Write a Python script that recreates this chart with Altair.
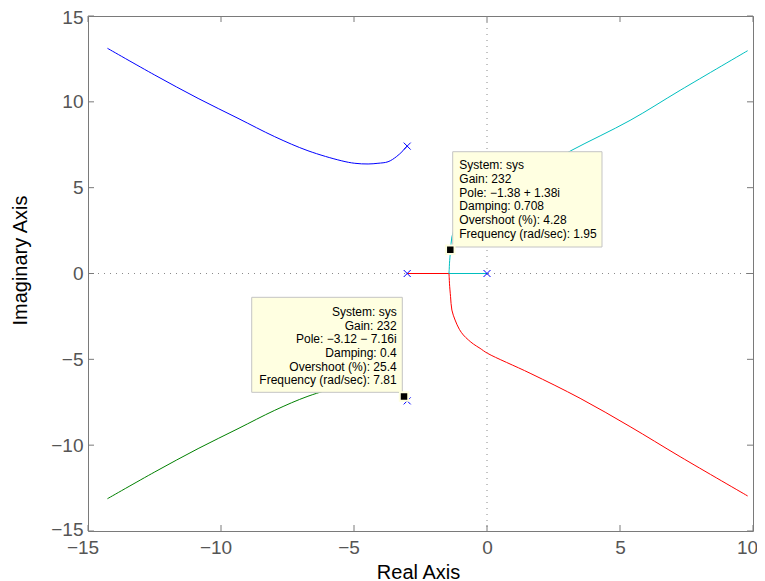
import altair as alt
import pandas as pd

W, H = 665, 515

x_ticks = [-15, -10, -5, 0, 5, 10]
y_ticks = [-15, -10, -5, 0, 5, 10, 15]

# root-locus branches, values
blue_re = [-3.00, -3.16, -3.41, -3.72, -4.10, -4.47, -4.97, -5.48, -6.73, -7.98, -9.36, -10.86, -12.49, -14.27]
blue_im = [7.43, 7.15, 6.80, 6.51, 6.42, 6.38, 6.42, 6.57, 7.15, 7.97, 9.04, 10.20, 11.56, 13.12]

green_re = [-3.00, -3.16, -3.41, -3.72, -4.10, -4.47, -4.97, -5.48, -6.73, -7.98, -9.36, -10.86, -12.49, -14.27]
green_im = [-7.43, -7.15, -6.80, -6.51, -6.42, -6.38, -6.42, -6.57, -7.15, -7.97, -9.04, -10.20, -11.56, -13.12]

# parts of the red / cyan branches that run along the real axis
red_axis_re = [-3.00, -1.43]
red_axis_im = [0.00, 0.00]
cyan_axis_re = [0.00, -1.43]
cyan_axis_im = [0.00, 0.00]

red_re = [-1.43, -1.42, -1.41, -1.37, -1.32, -1.20, -1.04, -0.89, -0.70, -0.51, -0.26, 0.02, 1.62, 3.50, 5.38, 7.26, 9.80]
red_im = [0.00, -0.25, -0.60, -1.35, -2.13, -2.71, -3.25, -3.58, -3.87, -4.11, -4.36, -4.65, -5.81, -7.27, -8.92, -10.67, -12.96]

cyan_re = [-1.43, -1.42, -1.41, -1.37, -1.32, -1.20, -1.04, -0.89, -0.70, -0.51, -0.26, 0.02, 1.62, 3.15, 5.38, 7.26, 9.80]
cyan_im = [0.00, 0.25, 0.60, 1.35, 2.13, 2.71, 3.25, 3.58, 3.87, 4.11, 4.36, 4.65, 5.81, 7.15, 8.92, 10.67, 12.98]

pole_re = [-3.0, -3.0, -3.0, 0.0]
pole_im = [7.42, 0.0, -7.42, 0.0]

tip_re = [-1.38, -3.12]
tip_im = [1.38, -7.16]
tip1_lines = ["System: sys", "Gain: 232", "Pole: \u22121.38 + 1.38i", "Damping: 0.708",
              "Overshoot (%): 4.28", "Frequency (rad/sec): 1.95"]
tip2_lines = ["System: sys", "Gain: 232", "Pole: \u22123.12 \u2212 7.16i", "Damping: 0.4",
              "Overshoot (%): 25.4", "Frequency (rad/sec): 7.81"]

branch_names = ["blue", "green", "red", "cyan"]
branch_colors = ["#0000ff", "#008000", "#ff0000", "#00bfbf"]


def branch(name, re, im):
    return pd.DataFrame({"branch": name, "re": re, "im": im, "k": list(range(len(re)))})


curves_df = pd.concat([
    branch("blue", blue_re, blue_im),
    branch("green", green_re, green_im),
    branch("red", red_re, red_im),
    branch("cyan", cyan_re, cyan_im),
], ignore_index=True)

axis_seg_df = pd.concat([
    branch("red", red_axis_re, red_axis_im),
    branch("cyan", cyan_axis_re, cyan_axis_im),
], ignore_index=True)

poles_df = pd.DataFrame({"re": pole_re, "im": pole_im})
tip1_df = pd.DataFrame({"re": [tip_re[0]], "im": [tip_im[0]], "txt": ["\n".join(tip1_lines)]})
tip2_df = pd.DataFrame({"re": [tip_re[1]], "im": [tip_im[1]], "txt": ["\n".join(tip2_lines)]})
tips_df = pd.DataFrame({"re": tip_re, "im": tip_im})
xt_df = pd.DataFrame({"re": x_ticks})
yt_df = pd.DataFrame({"im": y_ticks})
zx_df = pd.DataFrame({"re": [0]})
zy_df = pd.DataFrame({"im": [0]})

xs = alt.Scale(domain=[-15, 10], nice=False, zero=False)
ys = alt.Scale(domain=[-15, 15], nice=False, zero=False)

FONT = "Liberation Sans"

x_axis = alt.Axis(values=x_ticks, title="Real Axis", labelFlush=False, labelPadding=7,
                  labelOffset={"expr": "datum.value < 0 ? -5.5 : (datum.value >= 10 ? -6 : 0)"},
                  titleX=330, titleY=47, titleBaseline="alphabetic", titleAlign="center")
y_axis = alt.Axis(values=y_ticks, title="Imaginary Axis", labelPadding=5, labelFlush=False,
                  labelOffset={"expr": "datum.value >= 15 ? 1.5 : (datum.value <= -15 ? -1.5 : 0)"},
                  titleX=-62, titleY=244, titleAngle=270, titleBaseline="alphabetic",
                  titleAlign="center")


def X():
    return alt.X("re:Q", scale=xs, axis=x_axis, title="Real Axis")


def Y():
    return alt.Y("im:Q", scale=ys, axis=y_axis, title="Imaginary Axis")


color_enc = alt.Color("branch:N", scale=alt.Scale(domain=branch_names, range=branch_colors), legend=None)

curves = alt.Chart(curves_df).mark_line(strokeWidth=1, interpolate="catmull-rom").encode(
    x=X(), y=Y(), color=color_enc, order="k:Q",
)
axis_segs = alt.Chart(axis_seg_df).mark_line(strokeWidth=1).encode(
    x=X(), y=Y(), color=color_enc, order="k:Q",
)

vzero = alt.Chart(zx_df).mark_rule(color="#8a8a8a", strokeDash=[1, 5], strokeWidth=1).encode(x=X())
hzero = alt.Chart(zy_df).mark_rule(color="#8a8a8a", strokeDash=[1, 5], strokeWidth=1).encode(y=Y())

TC = "#7a7a7a"
tick_b = alt.Chart(xt_df).mark_rule(color=TC).encode(x=X(), y=alt.value(H), y2=alt.value(H - 6))
tick_t = alt.Chart(xt_df).mark_rule(color=TC).encode(x=X(), y=alt.value(0), y2=alt.value(6))
tick_l = alt.Chart(yt_df).mark_rule(color=TC).encode(y=Y(), x=alt.value(0), x2=alt.value(6))
tick_r = alt.Chart(yt_df).mark_rule(color=TC).encode(y=Y(), x=alt.value(W), x2=alt.value(W - 6))

poles = alt.Chart(poles_df).mark_point(
    shape="M-1,-1L1,1M-1,1L1,-1", size=49, filled=False, stroke="#0000ff", strokeWidth=1, opacity=1
).encode(x=X(), y=Y())

BOX_FILL = "#ffffe1"
BOX_STROKE = "#c4c4c4"
box1 = alt.Chart(tip1_df).mark_rect(
    fill=BOX_FILL, stroke=BOX_STROKE, strokeWidth=1,
    xOffset=2.4, x2Offset=151.7, yOffset=-98.1, y2Offset=-2.8
).encode(x=X(), x2="re:Q", y=Y(), y2="im:Q")
box2 = alt.Chart(tip2_df).mark_rect(
    fill=BOX_FILL, stroke=BOX_STROKE, strokeWidth=1,
    xOffset=-152.3, x2Offset=-1.7, yOffset=-99.1, y2Offset=-4.1
).encode(x=X(), x2="re:Q", y=Y(), y2="im:Q")

text1 = alt.Chart(tip1_df).mark_text(
    align="left", baseline="alphabetic", dx=9, dy=-80.5, lineBreak="\n", lineHeight=13.65,
    font=FONT, fontSize=12, color="black"
).encode(x=X(), y=Y(), text="txt:N")
text2 = alt.Chart(tip2_df).mark_text(
    align="right", baseline="alphabetic", dx=-7.3, dy=-80.4, lineBreak="\n", lineHeight=13.65,
    font=FONT, fontSize=12, color="black"
).encode(x=X(), y=Y(), text="txt:N")

markers = alt.Chart(tips_df).mark_square(
    size=72, filled=True, color="black", stroke=BOX_FILL, strokeWidth=2, opacity=1
).encode(x=X(), y=Y())

chart = alt.layer(
    vzero, hzero, axis_segs, curves, tick_b, tick_t, tick_l, tick_r, poles,
    box1, box2, text1, text2, markers
).properties(
    width=W, height=H,
    autosize=alt.AutoSizeParams(type="none"),
    padding={"left": 80, "top": 8, "right": 4, "bottom": 50},
).configure_view(
    stroke="#7a7a7a", strokeWidth=1
).configure_axis(
    grid=False, domain=False, ticks=False, tickSize=0,
    labelFont=FONT, labelFontSize=19, labelColor="#555555",
    titleFont=FONT, titleFontSize=20, titleFontWeight="normal", titleColor="#000000",
    labelOverlap=False,
)

chart.save("out.html", embed_options={"renderer": "svg", "actions": False})
